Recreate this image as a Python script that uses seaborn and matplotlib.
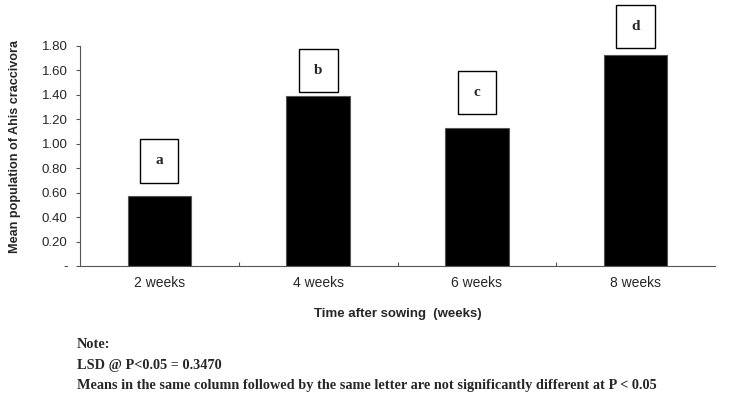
import numpy as np
import pandas as pd
import matplotlib
matplotlib.use("Agg")
import matplotlib.pyplot as plt
import seaborn as sns

weeks = ["2 weeks", "4 weeks", "6 weeks", "8 weeks"]
mean_pop = [0.57, 1.39, 1.13, 1.73]
letters = ["a", "b", "c", "d"]
letter_y = [0.86, 1.60, 1.42, 1.96]
y_ticks = [0, 0.2, 0.4, 0.6, 0.8, 1.0, 1.2, 1.4, 1.6, 1.8]
y_tick_labels = ["-", "0.20", "0.40", "0.60", "0.80", "1.00", "1.20", "1.40", "1.60", "1.80"]

notes = [
    "Note:",
    "LSD @ P<0.05 = 0.3470",
    "Means in the same column followed by the same letter are not significantly different at P < 0.05",
]

df = pd.DataFrame({"Week": weeks, "Mean": mean_pop})

sns.set_style("ticks")
plt.rcParams["font.family"] = ["Liberation Sans", "DejaVu Sans"]

fig = plt.figure(figsize=(7.31, 3.98), dpi=100)
ax = fig.add_axes([80 / 731, (398 - 266) / 398, (715 - 80) / 731, 220 / 398])

sns.barplot(data=df, x="Week", y="Mean", color="black", width=0.4,
            edgecolor="#555555", linewidth=0.8, ax=ax)

for i, (lab, ly) in enumerate(zip(letters, letter_y)):
    ax.text(i, ly, lab, ha="center", va="center", fontsize=11, fontweight="bold",
            family="Liberation Serif", clip_on=False,
            bbox=dict(boxstyle="square,pad=1.0", facecolor="white", edgecolor="black", linewidth=1))

ax.set_xlim(-0.5, 3.5)
ax.set_ylim(0, 1.8)
ax.set_yticks(y_ticks)
ax.set_yticklabels(y_tick_labels, fontsize=9.5)
ax.tick_params(axis="y", length=3, width=0.8, color="#555555", pad=6)
ax.tick_params(axis="x", which="major", length=0, labelsize=10, pad=7)
ax.set_xticks([0.5, 1.5, 2.5], minor=True)
ax.tick_params(axis="x", which="minor", direction="in", length=3, width=0.8, color="#555555")

for s in ["top", "right"]:
    ax.spines[s].set_visible(False)
for s in ["left", "bottom"]:
    ax.spines[s].set_color("#555555")
    ax.spines[s].set_linewidth(0.8)

ax.set_xlabel("Time after sowing  (weeks)", fontsize=9.5, fontweight="bold", labelpad=13)
ax.set_ylabel("Mean population of Ahis craccivora", fontsize=9.1, fontweight="bold")
ax.yaxis.set_label_coords(-59 / 635, 0.545)

for k, line in enumerate(notes):
    fig.text(77 / 731, 1 - (345 + 20 * k) / 398, line, fontsize=10.3, fontweight="bold",
             family="Liberation Serif", va="center", ha="left")

fig.savefig("out.png", dpi=100)
